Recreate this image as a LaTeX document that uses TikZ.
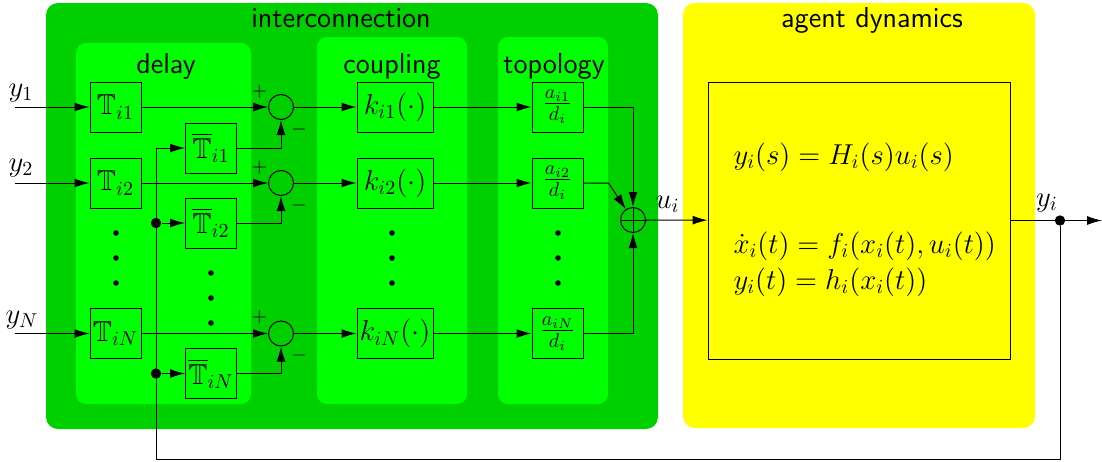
\documentclass[tikz,border=0pt]{standalone}
\usepackage{amsmath,amssymb}
\usepackage{tikz}
\usetikzlibrary{arrows.meta}

\definecolor{outergreen}{RGB}{0,208,0}
\definecolor{innergreen}{RGB}{0,255,0}
\definecolor{agentyellow}{RGB}{255,255,0}

\tikzset{
	blk/.style={draw, minimum width=25.5pt, minimum height=25pt, inner sep=1pt},
	sumnode/.style={draw, circle, minimum size=12.5pt, inner sep=0pt},
	addnode/.style={sumnode, path picture={
		\draw (path picture bounding box.north) -- (path picture bounding box.south)
		      (path picture bounding box.west) -- (path picture bounding box.east);}},
	sig/.style={-{Latex[length=7.5pt,width=4.5pt]}},
	junc/.style={fill, circle, inner sep=0pt, minimum size=5.2pt},
	vdot/.style={fill, circle, inner sep=0pt, minimum size=2.8pt},
	ttl/.style={font=\sffamily\Large},
	sgn/.style={font=\normalsize, inner sep=1pt},
	eqn/.style={anchor=west, inner sep=0pt},
}

\begin{document}
\begin{tikzpicture}[x=0.5pt, y=-0.5pt, font=\Large, line width=0.5pt]
	\useasboundingbox (0,0) rectangle (1102,461);

	% panels
	\fill[outergreen, rounded corners=6pt] (46,3) rectangle (658,429);
	\fill[innergreen, rounded corners=5pt] (76,43) rectangle (251,404);
	\fill[innergreen, rounded corners=5pt] (317,37) rectangle (467,404);
	\fill[innergreen, rounded corners=5pt] (498,37) rectangle (608,404);
	\fill[agentyellow, rounded corners=6pt] (683,3) rectangle (1035,428);

	% panel titles
	\node[ttl] (tInter)  at (341,18)  {interconnection};
	\node[ttl] (tDelay)  at (166,66)  {delay};
	\node[ttl] (tCoup)   at (392,66)  {coupling};
	\node[ttl] (tTopo)   at (554,66)  {topology};
	\node[ttl] (tAgent)  at (872,20)  {agent dynamics};

	% delay blocks
	\node[blk] (T1) at (115.5,107)   {$\mathbb{T}_{i1}$};
	\node[blk] (T2) at (115.5,183)   {$\mathbb{T}_{i2}$};
	\node[blk] (TN) at (115.5,333.5) {$\mathbb{T}_{iN}$};

	\node[blk] (Tb1) at (211,148)   {$\overline{\mathbb{T}}_{i1}$};
	\node[blk] (Tb2) at (211,223)   {$\overline{\mathbb{T}}_{i2}$};
	\node[blk] (TbN) at (211,373.5) {$\overline{\mathbb{T}}_{iN}$};

	% comparison points
	\node[sumnode, label={[sgn]150:$+$}, label={[sgn, label distance=1pt]-60:$-$}] (s1) at (281,107)   {};
	\node[sumnode, label={[sgn]150:$+$}, label={[sgn, label distance=1pt]-60:$-$}] (s2) at (281,183)   {};
	\node[sumnode, label={[sgn]150:$+$}, label={[sgn, label distance=1pt]-60:$-$}] (sN) at (281,333.5) {};

	% coupling blocks
	\node[blk, minimum width=38pt] (k1) at (395,107)   {$k_{i1}(\cdot)$};
	\node[blk, minimum width=38pt] (k2) at (395,183)   {$k_{i2}(\cdot)$};
	\node[blk, minimum width=38pt] (kN) at (395,333.5) {$k_{iN}(\cdot)$};

	% topology blocks
	\node[blk] (a1) at (557.5,107)   {$\frac{a_{i1}}{d_i}$};
	\node[blk] (a2) at (557.5,183)   {$\frac{a_{i2}}{d_i}$};
	\node[blk] (aN) at (557.5,333.5) {$\frac{a_{iN}}{d_i}$};

	% adder
	\node[addnode] (add) at (633,220) {};

	% agent
	\node[draw, minimum width=151pt, minimum height=138.5pt] (agent) at (859,220.5) {};
	\node[eqn] (eqH) at (733,157) {$y_i(s) = H_i(s)u_i(s)$};
	\node[eqn, align=left] (eqFG) at (733,264)
		{$\dot{x}_i(t) = f_i(x_i(t),u_i(t))$\\$y_i(t) = h_i(x_i(t))$};

	% vertical dots
	\foreach \y in {233,258,283} {
		\node[vdot] (dT\y) at (116,\y) {};
		\node[vdot] (dk\y) at (392,\y) {};
		\node[vdot] (da\y) at (558,\y) {};
	}
	\foreach \y in {273,298,323}
		\node[vdot] (dTb\y) at (211,\y) {};

	% inputs
	\coordinate (in1) at (15,107);
	\coordinate (in2) at (15,183);
	\coordinate (inN) at (15,333.5);
	\draw[sig] (in1) -- (T1);
	\draw[sig] (in2) -- (T2);
	\draw[sig] (inN) -- (TN);
	\node (ly1) at (21,93)  {$y_1$};
	\node (ly2) at (21,168) {$y_2$};
	\node (lyN) at (22,320) {$y_N$};

	% rows
	\draw[sig] (T1) -- (s1);
	\draw[sig] (T2) -- (s2);
	\draw[sig] (TN) -- (sN);
	\draw[sig] (Tb1) -| (s1);
	\draw[sig] (Tb2) -| (s2);
	\draw[sig] (TbN) -| (sN);
	\draw[sig] (s1) -- (k1);
	\draw[sig] (s2) -- (k2);
	\draw[sig] (sN) -- (kN);
	\draw[sig] (k1) -- (a1);
	\draw[sig] (k2) -- (a2);
	\draw[sig] (kN) -- (aN);
	\draw[sig] (a1) -| (add);
	\draw[sig] (a2.east) -- ++(25,0) -- (add);
	\draw[sig] (aN) -| (add);
	\draw[sig] (add) -- node[pos=0.35, above] (lu) {$u_i$} (agent);

	% output and feedback
	\coordinate (yend) at (1102,220.5);
	\node[junc] (jout) at (1060,220.5) {};
	\node[junc] (j2)   at (156,223) {};
	\node[junc] (jN)   at (156,373.5) {};
	\coordinate (fbR) at (1060,459);
	\coordinate (fbL) at (156,459);
	\draw[sig] (agent) -- (yend);
	\node (lyi) at (1047,203) {$y_i$};
	\draw[sig] (jout) -- (fbR) -- (fbL) |- (Tb1);
	\draw[sig] (j2) -- (Tb2);
	\draw[sig] (jN) -- (TbN);

\end{tikzpicture}
\end{document}
